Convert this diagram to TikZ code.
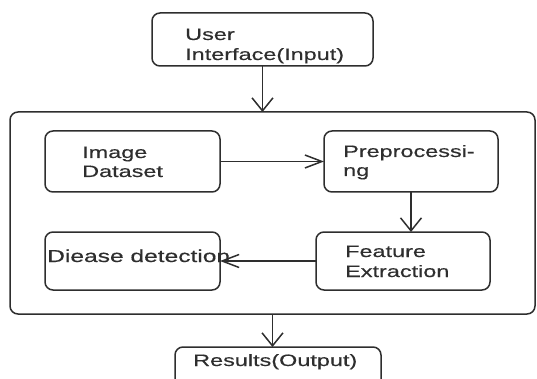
\documentclass[tikz,border=0pt]{standalone}
\usepackage{fontspec}
\newfontfamily\diagfont[FakeStretch=1.42,FakeBold=0.4]{Liberation Sans}
\usetikzlibrary{arrows.meta}
\definecolor{ink}{HTML}{2E2E2E}
\tikzset{
  box/.style={draw=ink, line width=1.5pt, rounded corners=8pt, inner sep=0pt, outer sep=0pt},
  lbl/.style={anchor=base west, inner sep=0pt, text=ink, font=\diagfont\fontsize{16.5}{19}\selectfont},
  varrow/.style={draw=ink, line width=1.5pt, -{Straight Barb[length=13pt,width=21pt,line width=1.5pt]}},
  harrow/.style={draw=ink, line width=1.5pt, -{Straight Barb[length=17pt,width=13pt,line width=1.5pt]}}
}
\begin{document}
\begin{tikzpicture}[x=1pt,y=-1pt]
\useasboundingbox (0,0) rectangle (537,379);
% boxes
\node[box, minimum width=221pt, minimum height=53pt] (ui) at (262.5,39.5) {};
\node[box, minimum width=525pt, minimum height=202pt] (main) at (272.5,213) {};
\node[box, minimum width=175pt, minimum height=61pt] (img) at (132.5,161.5) {};
\node[box, minimum width=174pt, minimum height=61pt] (prep) at (411,161.5) {};
\node[box, minimum width=174pt, minimum height=58pt] (feat) at (403,261) {};
\node[box, minimum width=175pt, minimum height=58pt] (dis) at (132.5,261) {};
\node[box, minimum width=206pt, minimum height=60pt] (res) at (278,377) {};
% labels
\node[lbl] (t1a) at (185,40) {User};
\node[lbl] (t1b) at (185,60) {Interface(Input)};
\node[lbl] (t2a) at (82,158) {Image};
\node[lbl] (t2b) at (82,177) {Dataset};
\node[lbl] (t3a) at (343,157) {Preprocessi-};
\node[lbl] (t3b) at (343,176) {ng};
\node[lbl] (t4a) at (345,257) {Feature};
\node[lbl] (t4b) at (345,277) {Extraction};
\node[lbl, font=\diagfont\fontsize{17.3}{19}\selectfont] (t5) at (47,262) {Diease detection};
\node[lbl] (t6) at (193,366) {Results(Output)};
% connectors
\draw[varrow] (ui.south) -- (ui.south |- main.north);
\draw[harrow] (img.east) -- (prep.west);
\draw[varrow] (prep.south) -- (prep.south |- feat.north);
\draw[harrow] (feat.west) -- (dis.east);
\draw[varrow] (main.south) -- (main.south |- res.north);
\end{tikzpicture}
\end{document}
